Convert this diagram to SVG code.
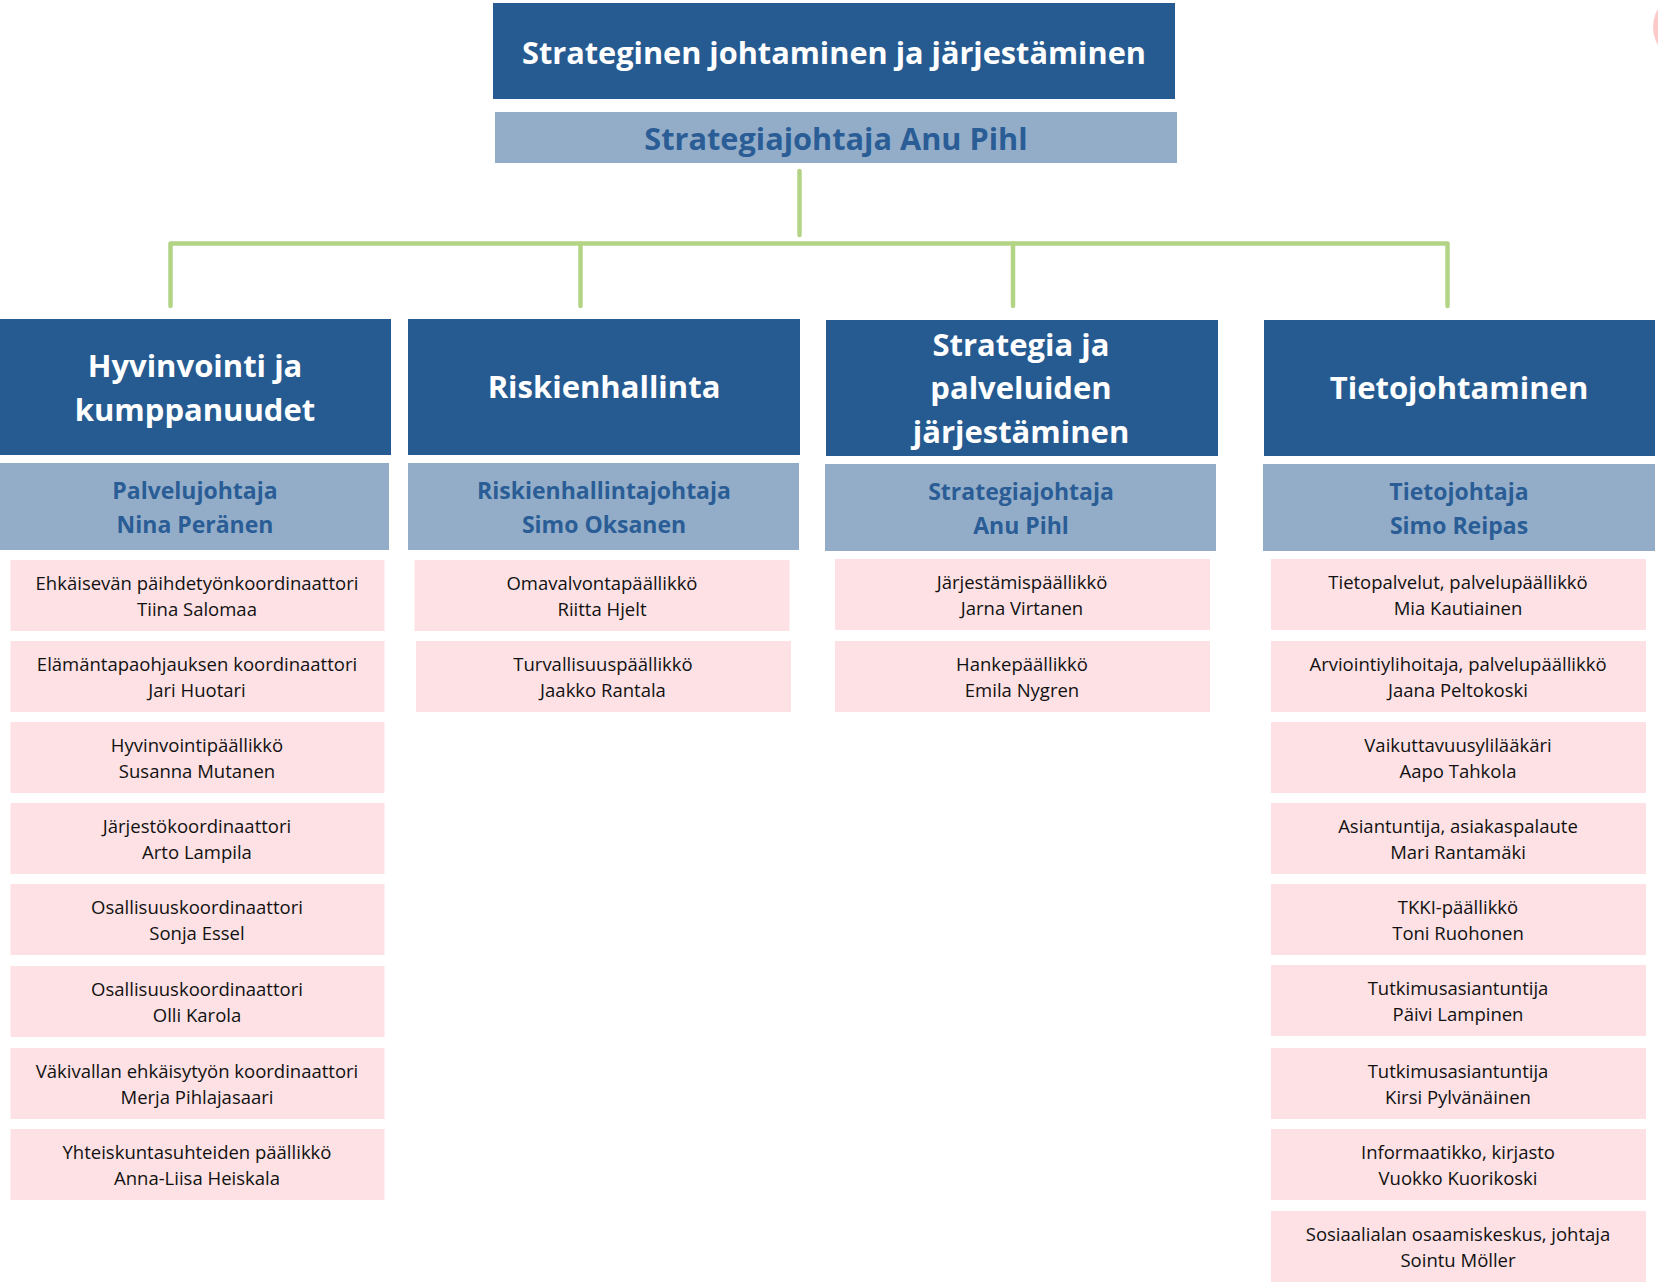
<svg xmlns="http://www.w3.org/2000/svg" width="1658" height="1283" viewBox="0 0 1658 1283">
<style>
.dark{fill:#265b92}
.light{fill:#93adc9}
.pink{fill:#fde1e4}
.t1{font-family:"Open Sans","Noto Sans",sans-serif;font-weight:bold;fill:#fff;text-anchor:middle}
.t2{font-family:"Open Sans","Noto Sans",sans-serif;font-weight:bold;fill:#2a5d95;text-anchor:middle}
.t3{font-family:"Open Sans","Noto Sans",sans-serif;font-size:18.5px;fill:#111;text-anchor:middle}
.con{stroke:#b3d485;stroke-width:4.5;fill:none;stroke-linecap:round;stroke-linejoin:round}
</style>
<circle cx="1688" cy="27" r="35" fill="#fdc9c9"/>
<g id="connectors">
<path class="con" d="M799.5,171 V235"/>
<path class="con" d="M170.5,306 V243.5 H1447.5 V306"/>
<path class="con" d="M580.5,243.5 V306"/>
<path class="con" d="M1013,243.5 V306"/>
</g>
<g id="root">
<rect class="dark" x="493" y="3" width="682" height="96"/>
<text class="t1" x="834" y="64" font-size="30.7">Strateginen johtaminen ja järjestäminen</text>
<rect class="light" x="495" y="112" width="682" height="51"/>
<text class="t2" x="836" y="150" font-size="30.7">Strategiajohtaja Anu Pihl</text>
</g>
<g id="col1">
<rect class="dark" x="0" y="319" width="391" height="136"/>
<text class="t1" font-size="31"><tspan x="195" y="377">Hyvinvointi ja</tspan><tspan x="195" y="421">kumppanuudet</tspan></text>
<rect class="light" x="0" y="463" width="389" height="87"/>
<text class="t2" font-size="23"><tspan x="195" y="499">Palvelujohtaja</tspan><tspan x="195" y="533">Nina Peränen</tspan></text>
</g>
<g id="col2">
<rect class="dark" x="408" y="319" width="392" height="136"/>
<text class="t1" x="604" y="398" font-size="31">Riskienhallinta</text>
<rect class="light" x="408" y="463" width="391" height="87"/>
<text class="t2" font-size="23"><tspan x="604" y="499">Riskienhallintajohtaja</tspan><tspan x="604" y="533">Simo Oksanen</tspan></text>
</g>
<g id="col3">
<rect class="dark" x="826" y="320" width="392" height="136"/>
<text class="t1" font-size="31"><tspan x="1021" y="356">Strategia ja</tspan><tspan x="1021" y="399">palveluiden</tspan><tspan x="1021" y="443">järjestäminen</tspan></text>
<rect class="light" x="825" y="464" width="391" height="87"/>
<text class="t2" font-size="23"><tspan x="1021" y="500">Strategiajohtaja</tspan><tspan x="1021" y="534">Anu Pihl</tspan></text>
</g>
<g id="col4">
<rect class="dark" x="1264" y="320" width="391" height="136"/>
<text class="t1" x="1459" y="399" font-size="31">Tietojohtaminen</text>
<rect class="light" x="1263" y="464" width="392" height="87"/>
<text class="t2" font-size="23"><tspan x="1459" y="500">Tietojohtaja</tspan><tspan x="1459" y="534">Simo Reipas</tspan></text>
</g>
<g id="p1-1"><rect class="pink" x="10.5" y="560" width="374" height="71"/><text class="t3"><tspan x="197" y="590">Ehkäisevän päihdetyönkoordinaattori</tspan><tspan x="197" y="616">Tiina Salomaa</tspan></text></g>
<g id="p1-2"><rect class="pink" x="10.5" y="641" width="374" height="71"/><text class="t3"><tspan x="197" y="671">Elämäntapaohjauksen koordinaattori</tspan><tspan x="197" y="697">Jari Huotari</tspan></text></g>
<g id="p1-3"><rect class="pink" x="10.5" y="722" width="374" height="71"/><text class="t3"><tspan x="197" y="752">Hyvinvointipäällikkö</tspan><tspan x="197" y="778">Susanna Mutanen</tspan></text></g>
<g id="p1-4"><rect class="pink" x="10.5" y="803" width="374" height="71"/><text class="t3"><tspan x="197" y="833">Järjestökoordinaattori</tspan><tspan x="197" y="859">Arto Lampila</tspan></text></g>
<g id="p1-5"><rect class="pink" x="10.5" y="884" width="374" height="71"/><text class="t3"><tspan x="197" y="914">Osallisuuskoordinaattori</tspan><tspan x="197" y="940">Sonja Essel</tspan></text></g>
<g id="p1-6"><rect class="pink" x="10.5" y="966" width="374" height="71"/><text class="t3"><tspan x="197" y="996">Osallisuuskoordinaattori</tspan><tspan x="197" y="1022">Olli Karola</tspan></text></g>
<g id="p1-7"><rect class="pink" x="10.5" y="1048" width="374" height="71"/><text class="t3"><tspan x="197" y="1078">Väkivallan ehkäisytyön koordinaattori</tspan><tspan x="197" y="1104">Merja Pihlajasaari</tspan></text></g>
<g id="p1-8"><rect class="pink" x="10.5" y="1129" width="374" height="71"/><text class="t3"><tspan x="197" y="1159">Yhteiskuntasuhteiden päällikkö</tspan><tspan x="197" y="1185">Anna-Liisa Heiskala</tspan></text></g>
<g id="p2-1"><rect class="pink" x="414.5" y="560" width="375" height="71"/><text class="t3"><tspan x="602" y="590">Omavalvontapäällikkö</tspan><tspan x="602" y="616">Riitta Hjelt</tspan></text></g>
<g id="p2-2"><rect class="pink" x="416" y="641" width="375" height="71"/><text class="t3"><tspan x="603" y="671">Turvallisuuspäällikkö</tspan><tspan x="603" y="697">Jaakko Rantala</tspan></text></g>
<g id="p3-1"><rect class="pink" x="835" y="559" width="375" height="71"/><text class="t3"><tspan x="1022" y="589">Järjestämispäällikkö</tspan><tspan x="1022" y="615">Jarna Virtanen</tspan></text></g>
<g id="p3-2"><rect class="pink" x="835" y="641" width="375" height="71"/><text class="t3"><tspan x="1022" y="671">Hankepäällikkö</tspan><tspan x="1022" y="697">Emila Nygren</tspan></text></g>
<g id="p4-1"><rect class="pink" x="1271" y="559" width="375" height="71"/><text class="t3"><tspan x="1458" y="589">Tietopalvelut, palvelupäällikkö</tspan><tspan x="1458" y="615">Mia Kautiainen</tspan></text></g>
<g id="p4-2"><rect class="pink" x="1271" y="641" width="375" height="71"/><text class="t3"><tspan x="1458" y="671">Arviointiylihoitaja, palvelupäällikkö</tspan><tspan x="1458" y="697">Jaana Peltokoski</tspan></text></g>
<g id="p4-3"><rect class="pink" x="1271" y="722" width="375" height="71"/><text class="t3"><tspan x="1458" y="752">Vaikuttavuusylilääkäri</tspan><tspan x="1458" y="778">Aapo Tahkola</tspan></text></g>
<g id="p4-4"><rect class="pink" x="1271" y="803" width="375" height="71"/><text class="t3"><tspan x="1458" y="833">Asiantuntija, asiakaspalaute</tspan><tspan x="1458" y="859">Mari Rantamäki</tspan></text></g>
<g id="p4-5"><rect class="pink" x="1271" y="884" width="375" height="71"/><text class="t3"><tspan x="1458" y="914">TKKI-päällikkö</tspan><tspan x="1458" y="940">Toni Ruohonen</tspan></text></g>
<g id="p4-6"><rect class="pink" x="1271" y="965" width="375" height="71"/><text class="t3"><tspan x="1458" y="995">Tutkimusasiantuntija</tspan><tspan x="1458" y="1021">Päivi Lampinen</tspan></text></g>
<g id="p4-7"><rect class="pink" x="1271" y="1048" width="375" height="71"/><text class="t3"><tspan x="1458" y="1078">Tutkimusasiantuntija</tspan><tspan x="1458" y="1104">Kirsi Pylvänäinen</tspan></text></g>
<g id="p4-8"><rect class="pink" x="1271" y="1129" width="375" height="71"/><text class="t3"><tspan x="1458" y="1159">Informaatikko, kirjasto</tspan><tspan x="1458" y="1185">Vuokko Kuorikoski</tspan></text></g>
<g id="p4-9"><rect class="pink" x="1271" y="1211" width="375" height="71"/><text class="t3"><tspan x="1458" y="1241">Sosiaalialan osaamiskeskus, johtaja</tspan><tspan x="1458" y="1267">Sointu Möller</tspan></text></g>
</svg>
